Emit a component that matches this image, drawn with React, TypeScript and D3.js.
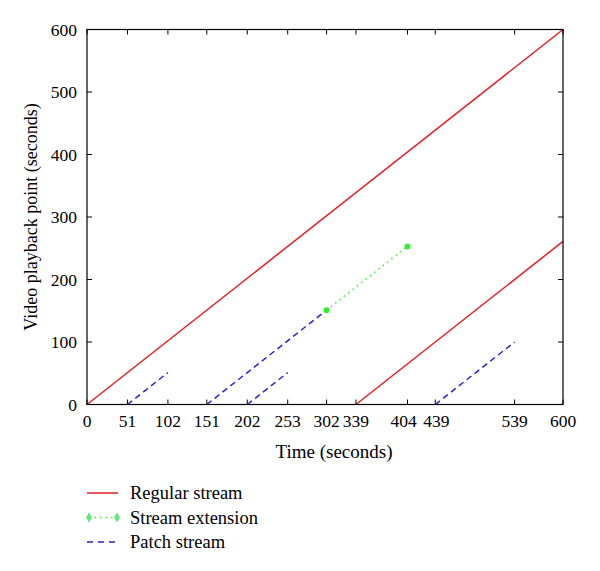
import React from "react";
import * as d3 from "d3";

const xTicks = [0, 51, 102, 151, 202, 253, 302, 339, 404, 439, 539, 600];
const yTicks = [0, 100, 200, 300, 400, 500, 600];

const regularStreams: [number, number][][] = [
  [[0, 0], [600, 600]],
  [[339, 0], [600, 261]],
];
const patchStreams: [number, number][][] = [
  [[51, 0], [102, 51]],
  [[151, 0], [302, 151]],
  [[202, 0], [253, 51]],
  [[439, 0], [539, 100]],
];
const extension: [number, number][] = [[302, 151], [404, 253]];

const legendItems = ["Regular stream", "Stream extension", "Patch stream"];

const RED = "#e31e24";
const GREEN = "#33ee33";
const BLUE = "#2626c8";
const FONT = "'Liberation Serif', 'DejaVu Serif', serif";

export default function App() {
  const W = 600, H = 571;
  const x = d3.scaleLinear().domain([0, 600]).range([87, 563]);
  const y = d3.scaleLinear().domain([0, 600]).range([404.5, 29.5]);
  const line = d3.line<[number, number]>().x(d => x(d[0])).y(d => y(d[1]));
  const tl = 5;
  const labelShift = (t: number) => (t === 404 ? -4 : t === 439 ? 1 : 0);
  return (
    <svg width={W} height={H} style={{ position: "absolute", left: 0, top: 0, background: "#fff" }} fontFamily={FONT}>
      <rect x={0} y={0} width={W} height={H} fill="#fff" />
      {regularStreams.map((s, i) => (
        <path key={"r" + i} d={line(s)!} stroke={RED} strokeWidth={1.5} fill="none" />
      ))}
      {patchStreams.map((s, i) => (
        <path key={"p" + i} d={line(s)!} stroke={BLUE} strokeWidth={1.5} strokeDasharray="6,4" fill="none" />
      ))}
      <path d={line(extension)!} stroke={GREEN} strokeWidth={1.5} strokeDasharray="1.5,4" fill="none" />
      {extension.map((p, i) => (
        <circle key={"e" + i} cx={x(p[0])} cy={y(p[1])} r={3} fill={GREEN} />
      ))}
      <rect x={x(0)} y={y(600)} width={x(600) - x(0)} height={y(0) - y(600)} fill="none" stroke="#000" strokeWidth={1.2} />
      {xTicks.map(t => (
        <g key={"x" + t}>
          <line x1={x(t)} x2={x(t)} y1={y(0)} y2={y(0) - tl} stroke="#000" />
          <line x1={x(t)} x2={x(t)} y1={y(600)} y2={y(600) + tl} stroke="#000" />
          <text x={x(t) + labelShift(t)} y={427} textAnchor="middle" fontSize={17.5}>{t}</text>
        </g>
      ))}
      {yTicks.map(t => (
        <g key={"y" + t}>
          <line x1={x(0)} x2={x(0) + tl} y1={y(t)} y2={y(t)} stroke="#000" />
          <line x1={x(600)} x2={x(600) - tl} y1={y(t)} y2={y(t)} stroke="#000" />
          <text x={77} y={y(t) + 6} textAnchor="end" fontSize={17.5}>{t}</text>
        </g>
      ))}
      <text x={334} y={458} textAnchor="middle" fontSize={19}>Time (seconds)</text>
      <text transform={`translate(37,${y(300)}) rotate(-90)`} textAnchor="middle" fontSize={18}>Video playback point (seconds)</text>
      {legendItems.map((name, i) => {
        const ly = 493 + i * 24.5;
        return (
          <g key={name}>
            {i === 0 && <line x1={87} x2={118} y1={ly} y2={ly} stroke={RED} strokeWidth={1.5} />}
            {i === 1 && (
              <g>
                <line x1={89} x2={117} y1={ly} y2={ly} stroke={GREEN} strokeWidth={1.5} strokeDasharray="1.5,4" />
                <path d={d3.symbol(d3.symbolDiamond, 30)()!} transform={`translate(89,${ly})`} fill="#55ee77" />
                <path d={d3.symbol(d3.symbolDiamond, 30)()!} transform={`translate(117,${ly})`} fill="#55ee77" />
              </g>
            )}
            {i === 2 && <line x1={87} x2={118} y1={ly} y2={ly} stroke={BLUE} strokeWidth={1.5} strokeDasharray="6,5" />}
            <text x={130} y={ly + 6} fontSize={18.5}>{name}</text>
          </g>
        );
      })}
    </svg>
  );
}
